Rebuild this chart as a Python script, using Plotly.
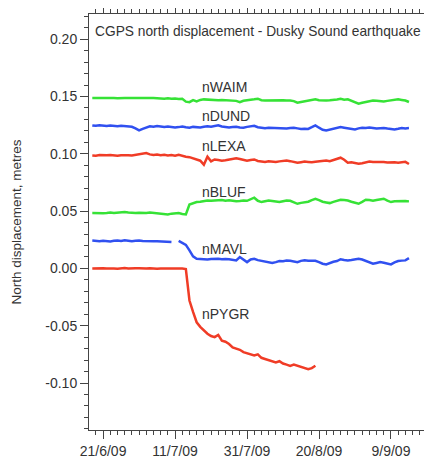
import plotly.graph_objects as go
import pandas as pd

# ---------------- data ----------------
start_date = "2009-06-18"
n_days = 89
dates = pd.date_range(start_date, periods=n_days, freq="D")

waim = [0.1486, 0.1488, 0.1485, 0.1487, 0.1486, 0.1489, 0.1486, 0.1484, 0.1487, 0.1488,
        0.1486, 0.1485, 0.1487, 0.1489, 0.1486, 0.1484, 0.1486, 0.1488, 0.1485, 0.1483,
        0.1481, 0.1484, 0.1480, 0.1483, 0.1478, 0.1481, 0.1455, 0.1451, 0.1469, 0.1457,
        0.1470, 0.1475, 0.1472, 0.1469, 0.1471, 0.1468, 0.1470, 0.1467, 0.1469, 0.1466,
        0.1462, 0.1451, 0.1463, 0.1468, 0.1470, 0.1476, 0.1481, 0.1468, 0.1466, 0.1467,
        0.1465, 0.1467, 0.1466, 0.1468, 0.1465, 0.1466, 0.1460, 0.1446, 0.1452, 0.1458,
        0.1463, 0.1470, 0.1475, 0.1468, 0.1464, 0.1466, 0.1468, 0.1469, 0.1474, 0.1480,
        0.1472, 0.1475, 0.1463, 0.1450, 0.1437, 0.1445, 0.1452, 0.1460, 0.1466, 0.1463,
        0.1460, 0.1457, 0.1462, 0.1467, 0.1472, 0.1475, 0.1470, 0.1465, 0.1452]

dund = [0.1248, 0.1244, 0.1250, 0.1246, 0.1242, 0.1247, 0.1243, 0.1240, 0.1245, 0.1242,
        0.1238, 0.1236, 0.1222, 0.1204, 0.1218, 0.1232, 0.1240, 0.1236, 0.1242, 0.1238,
        0.1234, 0.1239, 0.1236, 0.1229, 0.1233, 0.1238, 0.1231, 0.1228, 0.1235, 0.1233,
        0.1230, 0.1236, 0.1240, 0.1236, 0.1242, 0.1249, 0.1238, 0.1232, 0.1229, 0.1233,
        0.1236, 0.1230, 0.1227, 0.1235, 0.1242, 0.1245, 0.1232, 0.1226, 0.1224, 0.1227,
        0.1225, 0.1223, 0.1226, 0.1224, 0.1221, 0.1225, 0.1228, 0.1222, 0.1216, 0.1219,
        0.1217, 0.1232, 0.1248, 0.1228, 0.1210, 0.1204, 0.1212, 0.1222, 0.1230, 0.1233,
        0.1228, 0.1224, 0.1217, 0.1213, 0.1222, 0.1228, 0.1225, 0.1230, 0.1226, 0.1221,
        0.1224, 0.1226, 0.1220, 0.1215, 0.1213, 0.1219, 0.1226, 0.1222, 0.1225]

lexa = [0.0986, 0.0984, 0.0989, 0.0985, 0.0987, 0.0990, 0.0986, 0.0983, 0.0988, 0.0991,
        0.0988, 0.0985, 0.0989, 0.0994, 0.0998, 0.1006, 0.0995, 0.0990, 0.0993, 0.0988,
        0.0991, 0.0986, 0.0989, 0.0984, 0.0992, 0.0980, 0.0975, 0.0971, 0.0962, 0.0951,
        0.0940, 0.0905, 0.0975, 0.0934, 0.0951, 0.0946, 0.0940, 0.0943, 0.0948, 0.0952,
        0.0962, 0.0955, 0.0948, 0.0940, 0.0946, 0.0951, 0.0938, 0.0930, 0.0928, 0.0935,
        0.0932, 0.0929, 0.0934, 0.0938, 0.0942, 0.0936, 0.0930, 0.0922, 0.0927, 0.0932,
        0.0929, 0.0926, 0.0931, 0.0935, 0.0938, 0.0942, 0.0936, 0.0944, 0.0955, 0.0966,
        0.0948, 0.0922, 0.0926, 0.0920, 0.0913, 0.0918, 0.0925, 0.0932, 0.0928, 0.0930,
        0.0926, 0.0929, 0.0924, 0.0928, 0.0926, 0.0922, 0.0925, 0.0930, 0.0911]

bluf = [0.0483, 0.0481, 0.0485, 0.0482, 0.0484, 0.0487, 0.0483, 0.0486, 0.0490, 0.0492,
        0.0487, 0.0484, 0.0483, 0.0486, 0.0482, 0.0484, 0.0487, 0.0483, 0.0481, 0.0478,
        0.0475, 0.0471, 0.0478, 0.0480, 0.0483, 0.0475, 0.0471, 0.0558, 0.0572, 0.0579,
        0.0582, 0.0588, 0.0593, 0.0590, 0.0594, 0.0598, 0.0596, 0.0591, 0.0594, 0.0590,
        0.0586, 0.0589, 0.0593, 0.0590, 0.0603, 0.0617, 0.0590, 0.0579, 0.0586, 0.0593,
        0.0588, 0.0581, 0.0579, 0.0586, 0.0593, 0.0590, 0.0575, 0.0564, 0.0572, 0.0579,
        0.0582, 0.0596, 0.0608, 0.0596, 0.0582, 0.0576, 0.0570, 0.0581, 0.0593, 0.0599,
        0.0596, 0.0593, 0.0582, 0.0570, 0.0564, 0.0580, 0.0599, 0.0596, 0.0590, 0.0597,
        0.0603, 0.0608, 0.0592, 0.0579, 0.0586, 0.0588, 0.0590, 0.0588, 0.0585]

mavl = [0.0244, 0.0240, 0.0238, 0.0242, 0.0239, 0.0236, 0.0241, 0.0244, 0.0240, 0.0246,
        0.0242, 0.0238, 0.0241, 0.0244, 0.0240, 0.0237, 0.0239, 0.0236, 0.0238, 0.0235,
        0.0237, 0.0234, 0.0230, None, 0.0240, 0.0226, 0.0205, 0.0157, 0.0105, 0.0084,
        0.0080, 0.0076, 0.0077, 0.0082, 0.0086, 0.0084, 0.0080, 0.0083, 0.0079, 0.0074,
        0.0070, 0.0099, 0.0080, 0.0055, 0.0078, 0.0084, 0.0072, 0.0066, 0.0058, 0.0051,
        0.0047, 0.0055, 0.0064, 0.0062, 0.0068, 0.0066, 0.0061, 0.0055, 0.0066, 0.0072,
        0.0067, 0.0064, 0.0066, 0.0055, 0.0041, 0.0035, 0.0048, 0.0058, 0.0064, 0.0080,
        0.0074, 0.0070, 0.0073, 0.0078, 0.0084, 0.0078, 0.0066, 0.0052, 0.0041, 0.0048,
        0.0055, 0.0050, 0.0040, 0.0035, 0.0052, 0.0064, 0.0068, 0.0070, 0.0090]

pygr = [0.0000, 0.0002, -0.0002, 0.0001, -0.0001, 0.0002, 0.0000, -0.0002, 0.0001, 0.0003,
        0.0000, -0.0002, 0.0001, 0.0002, -0.0001, 0.0000, 0.0002, -0.0001, -0.0003, 0.0000,
        0.0001, -0.0002, 0.0000, 0.0002, 0.0001, 0.0000, -0.0005,
        -0.0280, -0.0380, -0.0470, -0.0510, -0.0540, -0.0570, -0.0590, -0.0600, -0.0580, -0.0630,
        -0.0640, -0.0660, -0.0690, -0.0700, -0.0710, -0.0730, -0.0740, -0.0750, -0.0760, -0.0750,
        -0.0780, -0.0790, -0.0800, -0.0810, -0.0820, -0.0810, -0.0830, -0.0840, -0.0850, -0.0840,
        -0.0850, -0.0860, -0.0870, -0.0880, -0.0870, -0.0850]

station_names = ["nWAIM", "nDUND", "nLEXA", "nBLUF", "nMAVL", "nPYGR"]
station_values = [waim, dund, lexa, bluf, mavl, pygr]

x_tick_vals = ["2009-06-21", "2009-07-11", "2009-07-31", "2009-08-20", "2009-09-09"]
x_tick_text = ["21/6/09", "11/7/09", "31/7/09", "20/8/09", "9/9/09"]
y_tick_vals = [-0.10, -0.05, 0.00, 0.05, 0.10, 0.15, 0.20]
y_tick_text = ["-0.10", "-0.05", "0.00", "0.05", "0.10", "0.15", "0.20"]

title_text = "CGPS north displacement - Dusky Sound earthquake"
y_title = "North displacement, metres"

# ---------------- style ----------------
GREEN = "#36e236"
BLUE = "#3050f0"
RED = "#f03c26"
colors = [GREEN, BLUE, RED, GREEN, BLUE, RED]
TEXT = "#333333"
FONT = "Liberation Sans, Arial, sans-serif"

# label anchor positions (date, value) for the station names
label_x = "2009-07-18"
label_y = [0.1584, 0.1326, 0.1065, 0.0668, 0.0166, -0.0397]

fig = go.Figure()
for name, vals, col in zip(station_names, station_values, colors):
    fig.add_trace(go.Scatter(
        x=dates[:len(vals)], y=vals, mode="lines", name=name,
        line=dict(color=col, width=2.5), connectgaps=False, showlegend=False,
    ))

for name, yv in zip(station_names, label_y):
    fig.add_annotation(x=label_x, y=yv, xref="x", yref="y", text=name, showarrow=False,
                       xanchor="left", yanchor="middle",
                       font=dict(family=FONT, size=14, color=TEXT))

fig.add_annotation(x=0.011, y=0.957, xref="paper", yref="paper", text=title_text,
                   showarrow=False, xanchor="left", yanchor="middle",
                   font=dict(family=FONT, size=13.75, color=TEXT))

axis_common = dict(showgrid=False, zeroline=False, showline=True, linecolor="#444444",
                   linewidth=1, mirror="allticks", ticks="outside", tickcolor="#444444",
                   tickwidth=1, tickfont=dict(family=FONT, size=14, color=TEXT))

fig.update_xaxes(
    type="date", range=["2009-06-17 02:00", "2009-09-19 07:00"],
    tickmode="array", tickvals=x_tick_vals, ticktext=x_tick_text, ticklen=8,
    minor=dict(tick0="2009-06-21", dtick=2 * 86400000, ticks="outside", ticklen=4,
               tickcolor="#444444", tickwidth=1, showgrid=False),
    **axis_common,
)
fig.update_yaxes(
    range=[-0.141, 0.222],
    tickmode="array", tickvals=y_tick_vals, ticktext=y_tick_text, ticklen=8,
    minor=dict(tick0=0, dtick=0.01, ticks="outside", ticklen=4,
               tickcolor="#444444", tickwidth=1, showgrid=False),
    title=dict(text=y_title, font=dict(family=FONT, size=13.5, color=TEXT), standoff=20),
    **axis_common,
)

# the page body has an 8px margin, so the figure is sized/offset to compensate
fig.update_layout(
    width=424, height=454,
    margin=dict(l=81, r=4, t=6, b=32, autoexpand=False),
    paper_bgcolor="white", plot_bgcolor="white",
    font=dict(family=FONT, color=TEXT),
)

fig.write_html("out.html")
